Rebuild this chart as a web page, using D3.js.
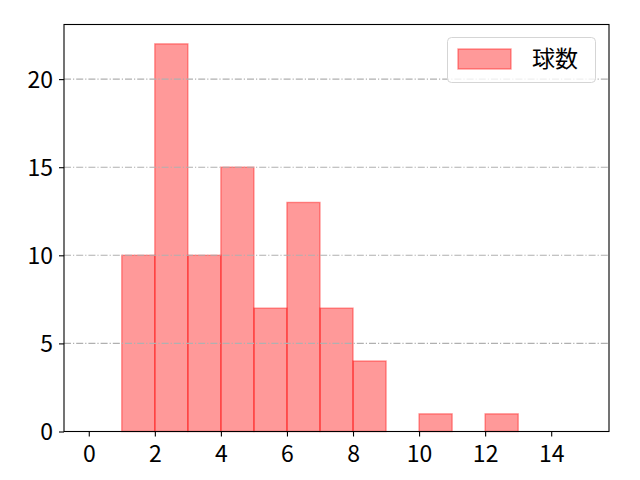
<!DOCTYPE html>
<html>
<head>
<meta charset="utf-8">
<script src="https://cdn.jsdelivr.net/npm/d3@7"></script>
<style>
  body { margin: 0; background: #fff; }
  text { font-family: "Noto Sans CJK JP", "DejaVu Sans", sans-serif; }
</style>
</head>
<body>
<div id="chart"></div>
<script>
// histogram bins (left edge) and counts
let bin_starts = [1, 2, 3, 4, 5, 6, 7, 8, 9, 10, 11, 12];
let bin_width = 1;
let counts = [10, 22, 10, 15, 7, 13, 7, 4, 0, 1, 0, 1];
let x_ticks = [0, 2, 4, 6, 8, 10, 12, 14];
let y_ticks = [0, 5, 10, 15, 20];
let series_name = "球数";

let width = 640;
let height = 480;
let plot_left = 64, plot_right = 609, plot_top = 24.5, plot_bottom = 431.5;

let svg = d3.select("#chart")
    .append("svg")
    .attr("width", width)
    .attr("height", height);

let xScale = d3.scaleLinear()
    .domain([-0.75, 15.75])
    .range([plot_left, plot_right]);

let yScale = d3.scaleLinear()
    .domain([0, 22 * 1.05])
    .range([plot_bottom, plot_top]);

let bars = [];
for (let i = 0; i < counts.length; i++) {
    if (counts[i] > 0) {
        bars.push({ x0: bin_starts[i], x1: bin_starts[i] + bin_width, v: counts[i] });
    }
}

svg.append("g").selectAll("rect")
    .data(bars)
    .enter()
    .append("rect")
    .attr("x", d => xScale(d.x0))
    .attr("y", d => yScale(d.v))
    .attr("width", d => xScale(d.x1) - xScale(d.x0))
    .attr("height", d => yScale(0) - yScale(d.v))
    .attr("fill", "red")
    .attr("fill-opacity", 0.4)
    .attr("stroke", "red")
    .attr("stroke-opacity", 0.4)
    .attr("stroke-width", 1.4);

// grid on top of bars
svg.append("g").selectAll("line")
    .data(y_ticks.filter(t => t > 0))
    .enter()
    .append("line")
    .attr("x1", plot_left)
    .attr("x2", plot_right)
    .attr("y1", d => yScale(d))
    .attr("y2", d => yScale(d))
    .attr("stroke", "#b0b0b0")
    .attr("stroke-width", 1.1)
    .attr("stroke-dasharray", "7,2,1.2,2");

let x_axis = svg.append("g")
    .attr("transform", "translate(0," + plot_bottom + ")")
    .call(d3.axisBottom(xScale).tickValues(x_ticks).tickSize(5).tickPadding(6).tickFormat(d3.format("d")));

let y_axis = svg.append("g")
    .attr("transform", "translate(" + plot_left + ",0)")
    .call(d3.axisLeft(yScale).tickValues(y_ticks).tickSize(5).tickPadding(6).tickFormat(d3.format("d")));

for (let ax of [x_axis, y_axis]) {
    ax.select(".domain").remove();
    ax.selectAll("line").attr("stroke", "#000").attr("stroke-width", 1.1);
    ax.selectAll("text")
        .attr("fill", "#000")
        .style("font-size", "23px")
        .style("font-family", "'Noto Sans CJK JP', sans-serif");
}
x_axis.selectAll("text").attr("dy", "0.85em");
y_axis.selectAll("text").attr("dy", "0.35em");

// frame
svg.append("rect")
    .attr("x", plot_left)
    .attr("y", plot_top)
    .attr("width", plot_right - plot_left)
    .attr("height", plot_bottom - plot_top)
    .attr("fill", "none")
    .attr("stroke", "#000")
    .attr("stroke-width", 1.1);

// legend
let legend = svg.append("g");
legend.append("rect")
    .attr("x", 447.5)
    .attr("y", 37.5)
    .attr("width", 148)
    .attr("height", 45)
    .attr("rx", 4)
    .attr("fill", "#fff")
    .attr("fill-opacity", 0.8)
    .attr("stroke", "#d5d5d5")
    .attr("stroke-width", 1);
legend.append("rect")
    .attr("x", 458)
    .attr("y", 49)
    .attr("width", 53)
    .attr("height", 20)
    .attr("fill", "red")
    .attr("fill-opacity", 0.4)
    .attr("stroke", "red")
    .attr("stroke-opacity", 0.4)
    .attr("stroke-width", 1.4);
legend.append("text")
    .attr("x", 532)
    .attr("y", 59)
    .attr("dy", "0.35em")
    .style("font-size", "23px")
    .text(series_name);
</script>
</body>
</html>
